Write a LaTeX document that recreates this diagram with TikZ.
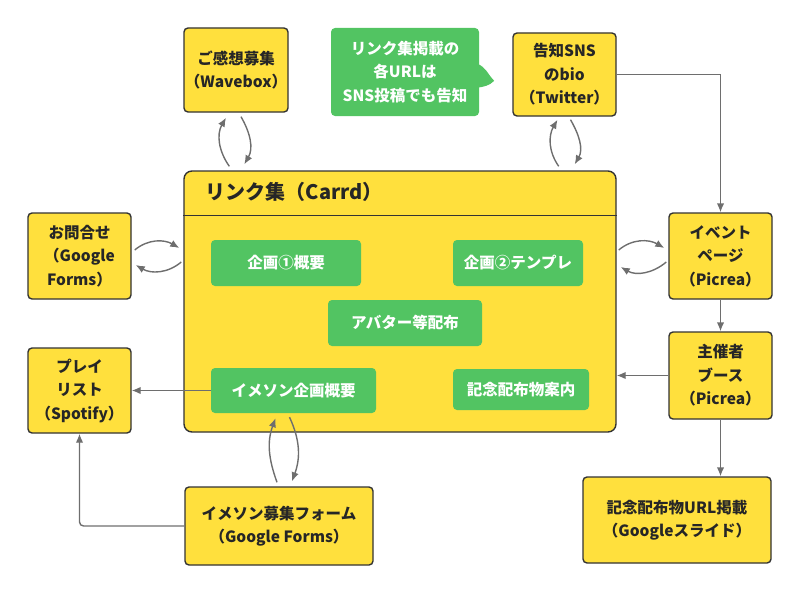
\documentclass[tikz,border=0pt]{standalone}
\usepackage{fontspec}
\setmainfont{Noto Sans CJK JP}
\usepackage{tikz}
\usetikzlibrary{calc,arrows.meta}
\definecolor{boxyellow}{HTML}{FFE03D}
\definecolor{boxgreen}{HTML}{52C462}
\definecolor{edgegray}{HTML}{333333}
\definecolor{linkgray}{HTML}{6E6E6E}

\begin{document}
\begin{tikzpicture}[x=1pt, y=-1pt,
    box/.style={draw=edgegray, line width=1.4pt, fill=boxyellow, rounded corners=4pt, align=center, text=black!85, inner sep=0pt, font=\bfseries\fontsize{15.5}{23.5}\selectfont},
    chip/.style={fill=boxgreen, rounded corners=4pt, align=center, text=white, inner sep=0pt, font=\bfseries\fontsize{15.5}{23.5}\selectfont},
    link/.style={draw=linkgray, line width=1.4pt, -{Latex[length=9pt, width=7.5pt]}}]
    \useasboundingbox (0,0) rectangle (800,594);

    \node[box, minimum width=104pt, minimum height=84pt] (wave) at (236,70) {ご感想募集\\（Wavebox）};
    \node[chip, minimum width=148pt, minimum height=88pt] (note) at (405,72) {リンク集掲載の\\各URLは\\SNS投稿でも告知};
    \fill[boxgreen] ($(note.north east)+(-2,36)$) to[out=-20, in=135] ($(note.north east)+(15,53)$) to[out=-135, in=10] ($(note.north east)+(-2,60)$) -- cycle;
    \node[box, minimum width=103pt, minimum height=83pt] (sns) at (564.5,74.5) {告知SNS\\のbio\\（Twitter）};

    \node[box, rounded corners=8pt, minimum width=432pt, minimum height=261pt] (carrd) at (400,301.5) {};
    \draw[edgegray, line width=1.4pt] ($(carrd.north west)+(0,45)$) -- ($(carrd.north east)+(0,45)$);
    \node[anchor=west, text=black!85, font=\bfseries\fontsize{20}{24}\selectfont] (title) at ($(carrd.north west)+(19,22)$) {リンク集（Carrd）};
    \node[chip, minimum width=150pt, minimum height=46pt] (plan1) at (286,263) {企画①概要};
    \node[chip, minimum width=130pt, minimum height=46pt] (plan2) at (518,263) {企画②テンプレ};
    \node[chip, minimum width=154pt, minimum height=46pt] (avatar) at (405,323) {アバター等配布};
    \node[chip, minimum width=165pt, minimum height=45pt] (imeson) at (293.5,390.5) {イメソン企画概要};
    \node[chip, minimum width=136pt, minimum height=41pt] (gift) at (521,389.5) {記念配布物案内};

    \node[box, minimum width=103pt, minimum height=86pt] (inq) at (79.5,256) {お問合せ\\（Google\\Forms）};
    \node[box, minimum width=103pt, minimum height=85pt] (play) at (79.5,390.5) {プレイ\\リスト\\（Spotify）};
    \node[box, minimum width=103pt, minimum height=86pt] (event) at (720.5,256) {イベント\\ページ\\（Picrea）};
    \node[box, minimum width=103pt, minimum height=87pt] (booth) at (720.5,375.5) {主催者\\ブース\\（Picrea）};
    \node[box, minimum width=188pt, minimum height=86pt] (url) at (677,520) {記念配布物URL掲載\\（Googleスライド）};
    \node[box, minimum width=188pt, minimum height=78pt] (form) at (279,526) {イメソン募集フォーム\\（Google Forms）};

    \coordinate (cl) at (carrd.west |- inq.east);
    \coordinate (cr) at (carrd.east |- event.west);

    \draw[link] ($(carrd.north west)+(46,-4)$) to[out=125, in=-120] ($(wave.south)+(-10,5)$);
    \draw[link] ($(wave.south)+(5,4)$) to[out=-60, in=60] ($(carrd.north west)+(61,-6)$);
    \draw[link] ($(carrd.north east)+(-58,-4)$) to[out=125, in=-120] ($(sns.south)+(-7,3)$);
    \draw[link] ($(sns.south)+(6,3)$) to[out=-60, in=60] ($(carrd.north east)+(-42,-6)$);
    \draw[link] ($(inq.east)+(3,-6)$) to[out=40, in=150] ($(cl)+(-4,-8)$);
    \draw[link] ($(cl)+(-2,6)$) to[out=-140, in=-30] ($(inq.east)+(4,9)$);
    \draw[link] ($(cr)+(2,-6)$) to[out=40, in=150] ($(event.west)+(-4,-8)$);
    \draw[link] ($(event.west)+(-2,6)$) to[out=-140, in=-30] ($(cr)+(4,11)$);
    \draw[link] ($(form.north)+(-2,-4)$) to[out=110, in=-110] ($(imeson.south)+(-18,5)$);
    \draw[link] ($(imeson.south)+(-4,4)$) to[out=-65, in=70] ($(form.north)+(13,-5)$);

    \draw[link] (sns.east) -| (event.north);
    \draw[link] (event.south) -- (booth.north);
    \draw[link] (booth.west) -- (booth.west -| carrd.east);
    \draw[link] (booth.south) -- (booth.south |- url.north);
    \draw[link] (imeson.west) -- (imeson.west -| play.east);
    \draw[link, rounded corners=4pt] (form.west) -| (play.south);
\end{tikzpicture}
\end{document}
